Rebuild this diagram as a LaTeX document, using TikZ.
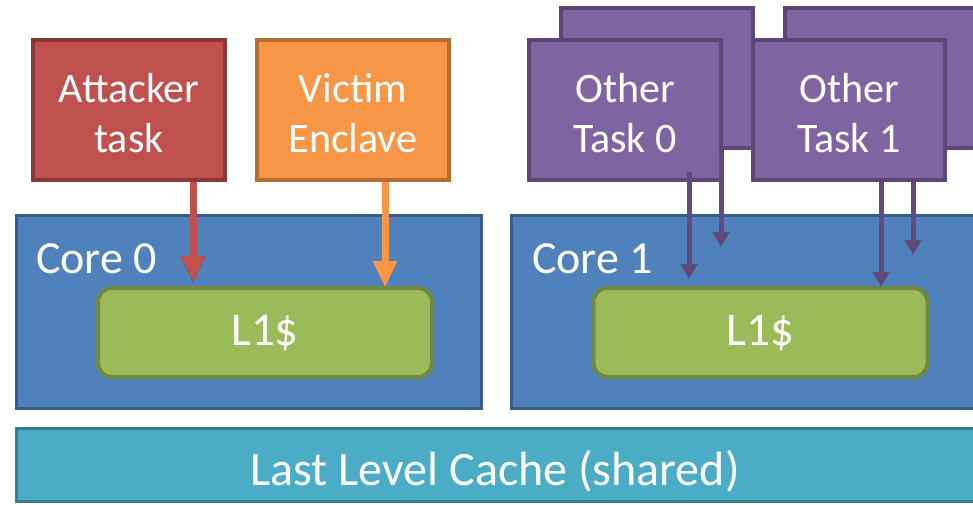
\documentclass[tikz,border=0pt]{standalone}
\usepackage{fontspec}
\setmainfont{Carlito}
\usetikzlibrary{arrows.meta}
\definecolor{attfill}{HTML}{C0504D}
\definecolor{attline}{HTML}{8C3836}
\definecolor{vicfill}{HTML}{F79646}
\definecolor{vicline}{HTML}{B66D31}
\definecolor{othfill}{HTML}{8064A2}
\definecolor{othline}{HTML}{5C4776}
\definecolor{otharrow}{HTML}{604A7B}
\definecolor{corefill}{HTML}{4F81BD}
\definecolor{coreline}{HTML}{385D8A}
\definecolor{lonefill}{HTML}{9BBB59}
\definecolor{loneline}{HTML}{71893F}
\definecolor{llcfill}{HTML}{4BACC6}
\definecolor{llcline}{HTML}{357D91}
\begin{document}
\begin{tikzpicture}[x=1pt,y=-1pt,
  taskbox/.style={rectangle, line width=4pt, minimum width=192pt, minimum height=140pt, inner sep=0pt},
  corebox/.style={rectangle, draw=coreline, fill=corefill, line width=3pt, minimum width=465pt, minimum height=193pt, inner sep=0pt},
  cachebox/.style={rectangle, rounded corners=14pt, draw=loneline, fill=lonefill, line width=4pt, minimum width=334pt, minimum height=89pt, inner sep=0pt, text=white, font=\fontsize{47}{50}\selectfont},
  tasktext/.style={text=white, align=center, inner sep=0pt, font=\fontsize{42}{50}\selectfont},
  corelabel/.style={text=white, inner sep=0pt, anchor=base west, font=\fontsize{46}{50}\selectfont},
  bigarrow/.style={line width=7pt, -{Triangle[width=23pt,length=27pt]}},
  smallarrow/.style={draw=otharrow, line width=5pt, -{Triangle[width=16pt,length=15pt]}},
  arrowshadow/.style={draw=black, opacity=0.5, line width=7pt, -{Triangle[width=23pt,length=27pt]}, shift={(1.5pt,-2.5pt)}}
]
\useasboundingbox (0,0) rectangle (973,504);
\clip (0,0) rectangle (973,504);
\fill[white] (0,0) rectangle (973,504);

% cores and caches
\node[corebox] (core0) at (249,312) {};
\node[corebox] (core1) at (744,312) {};
\node[corelabel] (core0lbl) at (36,273) {Core 0};
\node[corelabel] (core1lbl) at (532,273) {Core 1};
\node[cachebox] (l1a) at (265,332.5) {L1\$};
\node[cachebox] (l1b) at (760.5,332.5) {L1\$};
\node[rectangle, draw=llcline, fill=llcfill, line width=3pt, minimum width=959pt, minimum height=73pt, inner sep=0pt] (llc) at (496,465) {};
\node[text=white, inner sep=0pt, anchor=base, font=\fontsize{48}{50}\selectfont] (llclbl) at (495,485) {Last Level Cache (shared)};

% tasks
\node[taskbox, draw=attline, fill=attfill] (att) at (129,110) {};
\node[taskbox, draw=vicline, fill=vicfill] (vic) at (353,110) {};
\node[taskbox, draw=othline, fill=othfill] (oback0) at (657,78) {};
\node[taskbox, draw=othline, fill=othfill] (oback1) at (881,78) {};
\node[taskbox, draw=othline, fill=othfill] (other0) at (625,110) {};
\node[taskbox, draw=othline, fill=othfill] (other1) at (849,110) {};
\node[tasktext, anchor=base] (attlbl) at (129,152) {Attacker\\task};
\node[tasktext, anchor=base] (viclbl) at (353,152) {Victim\\Enclave};
\node[tasktext, anchor=base] (o0lbl) at (625,152) {Other\\Task 0};
\node[tasktext, anchor=base] (o1lbl) at (849,152) {Other\\Task 1};

% arrow ends
\coordinate (attTip) at (193,283);
\coordinate (vicTip) at (385,288);
\coordinate (o0start) at (689,172);
\coordinate (o0Tip) at (689,279);
\coordinate (ob0Tip) at (721,247);
\coordinate (o1Tip) at (881,287);
\coordinate (ob1Tip) at (913,255);

% accesses into the private L1
\draw[arrowshadow] (att.south -| attTip) -- (attTip);
\draw[bigarrow, draw=attfill] (att.south -| attTip) -- (attTip);
\draw[arrowshadow] (vic.south -| vicTip) -- (vicTip);
\draw[bigarrow, draw=vicfill] (vic.south -| vicTip) -- (vicTip);
\draw[smallarrow] (o0start) -- (o0Tip);
\draw[smallarrow] (oback0.south -| ob0Tip) -- (ob0Tip);
\draw[smallarrow] (other1.south -| o1Tip) -- (o1Tip);
\draw[smallarrow] (other1.south -| ob1Tip) -- (ob1Tip);
\end{tikzpicture}
\end{document}
